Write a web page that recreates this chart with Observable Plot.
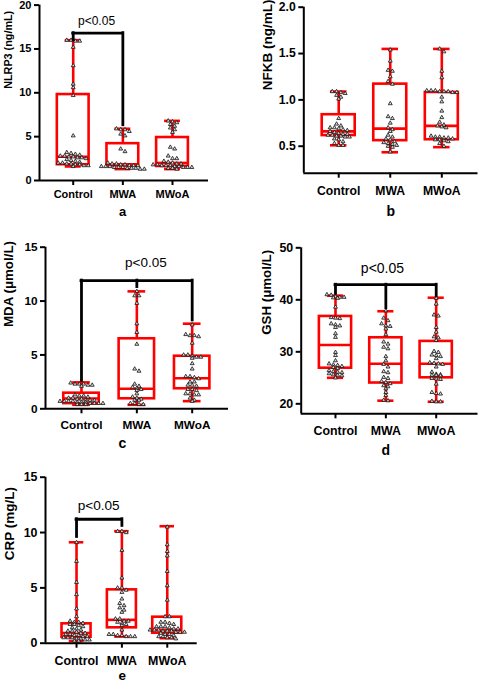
<!DOCTYPE html>
<html>
<head>
<meta charset="utf-8">
<script src="https://cdn.jsdelivr.net/npm/d3@7"></script>
<script src="https://cdn.jsdelivr.net/npm/@observablehq/plot@0.6"></script>
<style>
  body { margin: 0; background: #fff; }
  #fig { position: relative; width: 478px; height: 685px; overflow: hidden; background: #fff; }
  #fig svg { position: absolute; }
</style>
</head>
<body>
<div id="fig"></div>
<script>
const groups = ["Control", "MWA", "MWoA"];

// ---- NLRP3 (ng/mL) ----
const nlrp3Control = [16.0,16.0,15.9,15.9,15.2,13.1,11.0,10.6,9.7,5.1,3.2,3.1,3.0,2.9,2.8,2.8,2.7,2.7,2.6,2.6,2.5,2.4,2.3,2.2,2.1,2.0,2.0,1.9,1.9,1.8,1.8,1.7,1.7,1.6];
const nlrp3MWA = [5.9,5.8,5.8,5.6,5.3,5.1,3.6,3.3,2.0,1.9,1.9,1.8,1.8,1.7,1.7,1.7,1.6,1.6,1.6,1.5,1.5,1.5,1.4,1.4,1.4,1.3,1.3];
const nlrp3MWoA = [6.8,6.7,6.6,6.4,6.2,6.0,5.8,5.5,3.8,3.6,2.8,2.5,2.5,2.2,2.1,2.0,1.9,1.9,1.8,1.8,1.7,1.7,1.7,1.6,1.6,1.5,1.5,1.5,1.4,1.4,1.3];
// min, Q1, median, Q3, max for each group
const nlrp3Box = [[1.6,1.8,2.7,9.8,16.0],[1.3,1.65,1.85,4.2,5.9],[1.3,1.6,2.0,4.9,6.8]];
const nlrp3Ticks = [0,5,10,15,20];
const nlrp3Sig = [["Control",16.0],["MWA",6.3]];
const nlrp3SigLevel = 16.8;

// ---- NFKB (ng/mL) ----
const nfkbControl = [1.09,1.09,1.08,1.07,1.05,1.03,1.01,0.80,0.74,0.72,0.70,0.70,0.69,0.68,0.67,0.66,0.65,0.64,0.63,0.63,0.62,0.62,0.61,0.61,0.60,0.60,0.58,0.57,0.55,0.53,0.51,0.51];
const nfkbMWA = [1.54,1.42,1.32,1.31,1.25,1.20,1.17,0.96,0.82,0.80,0.75,0.70,0.68,0.66,0.62,0.60,0.58,0.57,0.55,0.54,0.53,0.52,0.51,0.50,0.49,0.44];
const nfkbMWoA = [1.55,1.52,1.31,1.24,1.10,1.10,1.10,1.09,1.09,1.09,1.08,1.08,1.03,0.98,0.88,0.81,0.76,0.73,0.72,0.71,0.70,0.61,0.60,0.60,0.59,0.59,0.58,0.57,0.57,0.56,0.55,0.53,0.50];
const nfkbBox = [[0.51,0.615,0.66,0.84,1.09],[0.435,0.56,0.69,1.17,1.55],[0.49,0.57,0.72,1.08,1.55]];
const nfkbTicks = [0.5,1.0,1.5,2.0];

// ---- MDA (μmol/L) ----
const mdaControl = [2.4,2.3,2.3,2.3,2.2,2.2,2.1,1.3,1.2,1.2,1.1,1.0,1.0,0.9,0.9,0.8,0.8,0.8,0.7,0.7,0.7,0.7,0.6,0.6,0.6,0.5,0.5,0.5,0.5,0.4,0.4,0.4];
const mdaMWA = [10.9,10.5,10.5,9.8,7.9,7.1,6.0,3.7,3.5,2.3,2.1,2.0,1.9,1.8,1.7,1.4,1.1,1.0,0.9,0.8,0.8,0.5,0.5,0.4,0.4];
const mdaMWoA = [7.8,6.9,6.8,6.8,6.7,6.1,5.0,5.0,4.9,4.8,4.8,4.7,4.2,3.7,3.0,3.0,2.9,2.8,2.5,2.5,2.2,2.2,2.1,1.8,1.8,1.7,1.4,1.4,1.3,1.3,1.0,0.8,0.7];
const mdaBox = [[0.37,0.48,0.95,1.45,2.45],[0.37,0.93,1.86,6.5,10.9],[0.71,1.86,2.84,4.88,7.9]];
const mdaTicks = [0,5,10,15];
const mdaSig = [["Control",2.6],["MWA",11.3],["MWoA",8.2]];
const mdaSigLevel = 11.9;

// ---- GSH (μmol/L) ----
const gshControl = [41.0,40.9,40.6,40.5,40.5,40.4,40.3,38.6,36.6,36.5,36.4,35.4,35.2,35.0,34.7,33.5,32.8,29.9,29.3,28.3,27.7,27.5,27.4,27.2,27.0,26.8,26.4,26.2,26.1,26.0,25.8,25.6,25.5,25.4,25.0];
const gshMWA = [37.9,36.5,36.0,35.4,35.0,34.9,34.4,33.3,31.9,31.5,30.9,30.6,29.1,28.3,27.6,27.1,26.2,26.0,25.1,24.9,24.3,24.1,23.9,23.5,23.3,22.9,22.2,21.6,20.7,20.6];
const gshMWoA = [40.3,39.2,37.1,36.9,34.7,33.8,32.9,32.7,32.2,30.1,29.9,29.4,29.3,29.1,28.7,27.9,27.8,27.7,27.6,27.1,26.1,25.7,25.6,25.5,25.5,25.4,24.9,24.8,24.7,23.8,22.2,22.0,21.9,20.5,20.4,20.4];
const gshBox = [[25.0,26.85,31.3,36.8,40.8],[20.6,24.0,27.7,32.7,37.8],[20.4,25.0,27.7,32.0,40.4]];
const gshTicks = [20,30,40,50];
const gshSig = [["Control",41.15],["MWA",38.4],["MWoA",40.7]];
const gshSigLevel = 42.9;

// ---- CRP (mg/L) ----
const crpControl = [9.1,7.4,5.5,4.4,3.1,2.4,2.0,1.9,1.9,1.8,1.7,1.7,1.6,1.5,1.4,1.3,1.2,1.1,1.1,1.0,0.9,0.9,0.8,0.8,0.7,0.7,0.6,0.6,0.5,0.5,0.5,0.4,0.4,0.3,0.3,0.2,0.2];
const crpMWA = [10.1,10.1,10.0,8.4,5.9,5.0,5.0,4.8,4.6,4.0,3.6,3.4,3.2,3.0,2.8,2.2,2.2,2.0,2.0,1.9,1.8,1.7,1.6,1.2,0.8,0.8,0.7,0.7,0.6,0.6,0.6];
const crpMWoA = [10.5,8.9,8.3,7.9,6.5,5.2,3.9,2.4,2.4,1.9,1.9,1.8,1.7,1.5,1.5,1.5,1.4,1.3,1.3,1.2,1.2,1.2,1.1,1.1,1.1,1.0,1.0,1.0,0.9,0.8,0.8,0.7,0.6,0.6,0.5,0.5,0.4];
const crpBox = [[0.2,0.54,0.92,1.75,9.12],[0.6,1.39,2.11,4.82,10.12],[0.45,0.9,1.21,2.35,10.57]];
const crpTicks = [0,5,10,15];
const crpSig = [["Control",9.6],["MWA",10.6]];
const crpSigLevel = 11.2;

const RED = "#ff0000";
const FONT = "'Liberation Sans', Arial, Helvetica, sans-serif";
const BOX_HALF = 0.32;   // half box width, in category units
const CAP_HALF = 0.16;   // half whisker-cap width

function panel(cfg) {
  const [x0, x1] = cfg.xDomain;
  const fw = cfg.width - cfg.ml - cfg.mr;
  const fh = cfg.height - cfg.mt - cfg.mb;
  const pxX = fw / (x1 - x0);
  const pxY = fh / (cfg.yDomain[1] - cfg.yDomain[0]);

  const boxes = cfg.box.map(([min, q1, median, q3, max], i) => ({i, min, q1, median, q3, max}));

  // column scatter: values close in height share a row and spread sideways
  const pts = [];
  const spacing = 4.3, rowGap = 2.8;
  cfg.points.forEach((vals, gi) => {
    const sorted = vals.slice().sort((a, b) => b - a);
    let row = [];
    const flush = () => {
      row.forEach((v, k) => pts.push({x: gi + (k - (row.length - 1) / 2) * spacing / pxX, y: v}));
      row = [];
    };
    for (const v of sorted) {
      if (row.length && (row[0] - v) * pxY > rowGap) flush();
      row.push(v);
    }
    flush();
  });

  const marks = [
    Plot.ruleX(boxes, {x: "i", y1: "min", y2: "max", stroke: RED, strokeWidth: 2.6}),
    Plot.rect(boxes, {x1: d => d.i - BOX_HALF, x2: d => d.i + BOX_HALF, y1: "q1", y2: "q3", fill: "white", stroke: RED, strokeWidth: 2.6}),
    Plot.ruleY(boxes, {y: "median", x1: d => d.i - BOX_HALF, x2: d => d.i + BOX_HALF, stroke: RED, strokeWidth: 2.6}),
    Plot.ruleY(boxes, {y: "min", x1: d => d.i - CAP_HALF, x2: d => d.i + CAP_HALF, stroke: RED, strokeWidth: 2.6}),
    Plot.ruleY(boxes, {y: "max", x1: d => d.i - CAP_HALF, x2: d => d.i + CAP_HALF, stroke: RED, strokeWidth: 2.6}),
    Plot.dot(pts, {x: "x", y: "y", symbol: "triangle", r: 1.45, fill: "#dcdcdc", stroke: "#111", strokeWidth: 0.8}),
    Plot.ruleX([x0], {stroke: "black", strokeWidth: 2}),
    Plot.ruleY([cfg.yDomain[0]], {stroke: "black", strokeWidth: 2}),
    Plot.axisY({ticks: cfg.ticks, tickFormat: cfg.tickFormat, tickSize: 5, tickPadding: 3, strokeWidth: 2,
      fontSize: cfg.tickFont, fontWeight: "bold", label: null}),
    Plot.axisX({ticks: [0, 1, 2], tickFormat: i => groups[i], tickSize: 5, tickPadding: cfg.xPad, strokeWidth: 2,
      fontSize: cfg.tickFont, fontWeight: "bold", label: null}),
    Plot.text([cfg.title], {frameAnchor: "left", rotate: -90, dx: cfg.titleDx, dy: cfg.titleDy,
      fontSize: cfg.titleFont, fontWeight: "bold", fill: "black"}),
    Plot.text([cfg.letter], {frameAnchor: "bottom", dx: cfg.letterDx, dy: cfg.letterDy,
      fontSize: cfg.letterFont, fontWeight: "bold", fill: "black"})
  ];

  if (cfg.sig) {
    const legs = cfg.sig.map(([g, end]) => ({x: groups.indexOf(g), end}));
    const first = legs[0].x, last = legs[legs.length - 1].x;
    marks.push(
      Plot.ruleX(legs, {x: "x", y1: cfg.sigLevel, y2: "end", stroke: "black", strokeWidth: 2.8, strokeLinecap: "square"}),
      Plot.ruleY([cfg.sigLevel], {x1: first, x2: last, stroke: "black", strokeWidth: 2.8, strokeLinecap: "square"}),
      Plot.text(["p<0.05"], {x: (first + last) / 2, y: cfg.sigLevel, dx: cfg.pDx, dy: cfg.pDy,
        fontSize: cfg.pFont, fill: "black"})
    );
  }

  const svg = Plot.plot({
    width: cfg.width, height: cfg.height,
    marginLeft: cfg.ml, marginRight: cfg.mr, marginTop: cfg.mt, marginBottom: cfg.mb,
    x: {domain: cfg.xDomain, axis: null},
    y: {domain: cfg.yDomain, axis: null},
    style: {fontFamily: FONT, background: "transparent", overflow: "visible", color: "black"},
    marks
  });
  svg.style.left = cfg.left + "px";
  svg.style.top = cfg.top + "px";
  svg.style.maxWidth = "none";
  document.getElementById("fig").appendChild(svg);
}

panel({
  left: 0, top: 0, width: 240, height: 230, ml: 39, mr: 32, mt: 4.6, mb: 50,
  xDomain: [-0.679, 2.725], yDomain: [0, 20], ticks: nlrp3Ticks, tickFormat: d3.format("d"),
  box: nlrp3Box, points: [nlrp3Control, nlrp3MWA, nlrp3MWoA],
  tickFont: 11, xPad: 5, title: "NLRP3 (ng/mL)", titleFont: 10.8, titleDx: -31.3, titleDy: -4,
  letter: "a", letterFont: 13, letterDx: -1.5, letterDy: 35,
  sig: nlrp3Sig, sigLevel: nlrp3SigLevel, pFont: 12, pDx: -1.5, pDy: -11.7
});

panel({
  left: 240, top: 0, width: 238, height: 230, ml: 63.3, mr: 0.5, mt: 6.7, mb: 57.3,
  xDomain: [-0.677, 2.702], yDomain: [0.209, 2.0], ticks: nfkbTicks, tickFormat: d3.format(".1f"),
  box: nfkbBox, points: [nfkbControl, nfkbMWA, nfkbMWoA],
  tickFont: 12.2, xPad: 8, title: "NFKB (ng/mL)", titleFont: 13.5, titleDx: -36.6, titleDy: 0,
  letter: "b", letterFont: 14, letterDx: 0, letterDy: 43
});

panel({
  left: 0, top: 230, width: 240, height: 230, ml: 45, mr: 12, mt: 16.7, mb: 51.7,
  xDomain: [-0.650, 2.656], yDomain: [0, 15], ticks: mdaTicks, tickFormat: d3.format("d"),
  box: mdaBox, points: [mdaControl, mdaMWA, mdaMWoA],
  tickFont: 11.8, xPad: 6.8, title: "MDA (μmol/L)", titleFont: 13.3, titleDx: -37, titleDy: -1,
  letter: "c", letterFont: 14, letterDx: -14.5, letterDy: 38.7,
  sig: mdaSig, sigLevel: mdaSigLevel, pFont: 13.5, pDx: 9, pDy: -17.7
});

panel({
  left: 240, top: 230, width: 238, height: 230, ml: 60.7, mr: 0.5, mt: 17.3, mb: 46.7,
  xDomain: [-0.681, 2.83], yDomain: [18.08, 50], ticks: gshTicks, tickFormat: d3.format("d"),
  box: gshBox, points: [gshControl, gshMWA, gshMWoA],
  tickFont: 12.4, xPad: 7.2, title: "GSH (μmol/L)", titleFont: 13.3, titleDx: -34, titleDy: 4,
  letter: "d", letterFont: 14, letterDx: -3.7, letterDy: 40.7,
  sig: gshSig, sigLevel: gshSigLevel, pFont: 14, pDx: -3.4, pDy: -16.7
});

panel({
  left: 0, top: 460, width: 240, height: 225, ml: 45, mr: 43.3, mt: 16.7, mb: 42.3,
  xDomain: [-0.684, 2.66], yDomain: [0, 15], ticks: crpTicks, tickFormat: d3.format("d"),
  box: crpBox, points: [crpControl, crpMWA, crpMWoA],
  tickFont: 12.4, xPad: 7.9, title: "CRP (mg/L)", titleFont: 13.5, titleDx: -36.3, titleDy: 0,
  letter: "e", letterFont: 13.5, letterDx: 0.8, letterDy: 36.5,
  sig: crpSig, sigLevel: crpSigLevel, pFont: 13.6, pDx: -0.5, pDy: -13.3
});
</script>
</body>
</html>
